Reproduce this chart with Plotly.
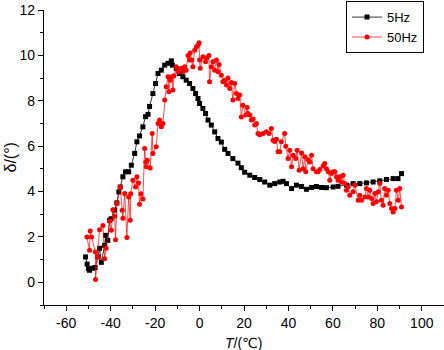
import plotly.graph_objects as go

# 5Hz series (temperature in °C, loss angle in degrees)
t_5hz = [-51.3, -50.6, -50.0, -49.5, -48.0, -47.0, -45.8, -45.0, -44.2, -42.7, -42.3, -41.3,
         -40.5, -39.8, -38.2, -37.2, -36.3, -35.7, -34.5, -33.3, -31.9, -30.7, -29.2, -28.2,
         -27.0, -25.5, -24.3, -23.2, -22.5, -21.0, -19.8, -18.7, -17.2, -15.7, -14.2, -12.7,
         -12.2, -10.5, -9.0, -7.5, -6.0, -4.5, -3.0, -1.8, -0.7, 0.0, 1.5, 2.7, 3.8, 5.3,
         6.8, 8.3, 9.8, 11.3, 12.8, 15.0, 17.3, 18.8, 20.3, 22.6, 24.8, 27.1, 29.3, 31.6,
         33.8, 36.1, 37.6, 39.1, 41.4, 43.6, 45.9, 48.1, 50.4, 52.6, 54.9, 57.1, 60.1, 62.3,
         66.1, 69.1, 72.1, 75.1, 78.1, 81.1, 84.1, 87.1, 89.3, 90.9]
d_5hz = [1.12, 0.80, 0.60, 0.53, 0.62, 0.65, 1.12, 1.50, 0.88, 1.63, 2.07, 1.85,
         2.73, 2.80, 3.18, 3.50, 3.98, 4.20, 4.65, 4.87, 4.87, 5.16, 5.68, 6.19,
         6.45, 6.85, 7.30, 7.40, 7.75, 8.32, 8.76, 9.20, 9.35, 9.57, 9.65, 9.76,
         9.57, 9.43, 9.20, 9.06, 8.91, 8.76, 8.54, 8.32, 8.10, 7.88, 7.66, 7.44, 7.15, 6.93,
         6.63, 6.34, 6.18, 5.86, 5.68, 5.45, 5.25, 5.05, 4.85, 4.72, 4.62, 4.53, 4.42, 4.28,
         4.35, 4.42, 4.45, 4.35, 4.13, 4.28, 4.22, 4.10, 4.18, 4.22, 4.18, 4.17, 4.20, 4.23,
         4.28, 4.35, 4.35, 4.38, 4.42, 4.47, 4.53, 4.57, 4.57, 4.79]

# 50Hz series
t_50hz = [-50.7, -49.5, -49.2, -48.6, -46.9, -46.8, -45.9, -45.0, -43.5, -42.7, -42.0, -40.5,
          -39.7, -39.0, -38.2, -37.8, -37.2, -35.7, -34.8, -34.5, -33.7, -32.7, -31.9, -31.2,
          -31.0, -30.0, -28.8, -28.2, -27.5, -27.0, -26.4, -25.5, -24.7, -24.2, -24.0, -23.5,
          -22.2, -21.3, -21.0, -19.5, -18.7, -18.0, -17.2, -16.5, -15.7, -15.0, -14.2, -13.8,
          -13.2, -12.4, -12.0, -11.5, -10.5, -9.7, -8.2, -7.5, -6.7, -6.0, -5.2, -4.5, -4.2,
          -3.5, -3.0, -2.2, -1.4, -0.7, -0.2, 0.0, 0.3, 1.5, 2.7, 3.3, 4.2, 4.5, 5.3, 6.0,
          6.8, 7.6, 8.3, 8.8, 9.8, 10.5, 11.3, 12.1, 12.8, 13.6, 14.3, 15.0, 15.8, 16.6,
          17.3, 18.1, 18.8, 19.5, 20.8, 21.4, 21.8, 22.6, 23.3, 24.1, 24.8, 25.6, 26.3,
          27.1, 28.6, 30.1, 31.3, 32.3, 33.1, 33.8, 34.6, 35.3, 36.1, 36.8, 38.3, 38.8,
          39.8, 40.6, 41.4, 42.1, 43.3, 43.9, 44.8, 45.9, 46.6, 47.4, 47.8, 48.9, 49.6,
          50.4, 51.1, 52.6, 53.4, 54.1, 55.6, 56.3, 57.1, 57.9, 58.6, 59.4, 60.1, 60.9,
          61.6, 62.3, 63.1, 63.9, 64.6, 65.4, 66.1, 66.9, 67.6, 69.1, 69.9, 71.4, 72.1,
          72.9, 74.4, 75.1, 75.9, 76.6, 77.4, 78.1, 78.9, 79.6, 80.4, 81.1, 81.8, 82.6,
          83.3, 84.1, 84.9, 85.6, 86.4, 87.1, 87.9, 88.6, 89.4, 90.1, 90.9]
d_50hz = [2.00, 1.41, 2.26, 2.00, 1.34, 0.12, 1.12, 2.32, 2.50, 1.04, 1.50, 2.70,
          2.29, 3.20, 2.91, 1.88, 3.47, 4.20, 3.18, 2.82, 3.91, 1.97, 3.76, 2.73,
          3.90, 4.50, 4.20, 4.65, 4.38, 3.44, 3.90, 3.67, 5.90, 5.30, 5.09, 5.38,
          5.04, 6.56, 5.68, 5.97, 7.00, 7.15, 6.85, 7.00, 8.03, 8.62, 9.06, 8.40,
          8.90, 9.06, 8.47, 9.10, 9.50, 9.28, 9.43, 9.28, 9.50, 9.35, 10.00, 9.80, 10.10,
          9.80, 9.50, 10.23, 10.38, 10.45, 10.56, 9.80, 9.43, 9.94, 9.72, 9.90, 10.00, 8.84, 9.50, 9.72,
          9.35, 9.80, 9.28, 9.60, 9.13, 8.84, 8.90, 8.69, 9.00, 8.54, 8.80, 8.03, 8.76, 8.32,
          8.10, 8.25, 7.29, 7.80, 7.37, 7.70, 7.44, 7.37, 7.15, 7.20, 6.93, 7.00, 6.56,
          6.50, 6.56, 6.63, 6.56, 6.78, 6.26, 6.20, 6.30, 5.75, 5.75, 6.19, 6.56, 6.00,
          5.46, 5.82, 5.09, 5.60, 5.46, 5.82, 4.94, 5.70, 5.00, 5.53, 4.87, 5.40, 5.30,
          5.60, 5.00, 4.87, 4.87, 4.97, 5.12, 5.24, 5.00, 4.87, 4.50, 4.80, 4.87, 4.87,
          4.65, 4.50, 4.65, 4.42, 4.72, 4.35, 4.06, 4.20, 3.84, 3.99, 4.28, 3.62, 3.84,
          3.62, 3.76, 4.13, 3.76, 4.06, 3.69, 3.47, 3.91, 3.55, 3.99, 4.35, 3.62, 3.40,
          4.13, 3.84, 4.06, 3.47, 3.25, 3.10, 3.25, 4.06, 3.62, 4.13, 3.32]

x_ticks = [-60, -40, -20, 0, 20, 40, 60, 80, 100]
y_ticks = [0, 2, 4, 6, 8, 10, 12]

FONT = "Arial, Liberation Sans, DejaVu Sans, sans-serif"

fig = go.Figure()
fig.add_trace(go.Scatter(
    x=t_5hz, y=d_5hz, name="5Hz", mode="lines+markers",
    line=dict(color="#000000", width=0.8),
    marker=dict(symbol="square", size=5, color="#000000"),
))
fig.add_trace(go.Scatter(
    x=t_50hz, y=d_50hz, name="50Hz", mode="lines+markers",
    line=dict(color="#ff0000", width=0.7),
    marker=dict(symbol="circle", size=5, color="#ff0000"),
))

axis_common = dict(
    showgrid=False, zeroline=False, showline=True, linecolor="#000000", linewidth=1.3,
    ticks="outside", ticklen=5, tickwidth=1, tickcolor="#000000",
    tickfont=dict(family=FONT, size=14, color="#000000"),
)

fig.update_xaxes(
    range=[-70, 110], tickvals=x_ticks, ticktext=[str(v) for v in x_ticks],
    minor=dict(dtick=10, tick0=0, ticks="outside", ticklen=3, tickcolor="#000000", tickwidth=1),
    **axis_common,
)
fig.update_yaxes(
    range=[-1, 12], tickvals=y_ticks, ticktext=[str(v) for v in y_ticks],
    minor=dict(dtick=1, tick0=0, ticks="outside", ticklen=3, tickcolor="#000000", tickwidth=1),
    **axis_common,
)

fig.update_layout(
    width=444, height=350,
    margin=dict(l=44, r=0, t=10, b=45),
    plot_bgcolor="white", paper_bgcolor="white",
    font=dict(family=FONT, size=14, color="#000000"),
    showlegend=True,
    legend=dict(
        x=0.755, y=1.03, xanchor="left", yanchor="top",
        bordercolor="#000000", borderwidth=1, bgcolor="white",
        font=dict(family=FONT, size=13, color="#000000"),
        tracegroupgap=0, itemwidth=30,
    ),
    annotations=[
        dict(text="<i>T</i>/(℃)", xref="paper", yref="paper", x=0.5, y=-0.0,
             yshift=-38, xanchor="center", yanchor="middle", showarrow=False,
             font=dict(family=FONT, size=14, color="#000000")),
        dict(text="δ/(°)", xref="paper", yref="paper", x=-0.085, y=0.50,
             textangle=-90, xanchor="center", yanchor="middle", showarrow=False,
             font=dict(family=FONT, size=16, color="#000000")),
    ],
)

fig.write_html("out.html")
